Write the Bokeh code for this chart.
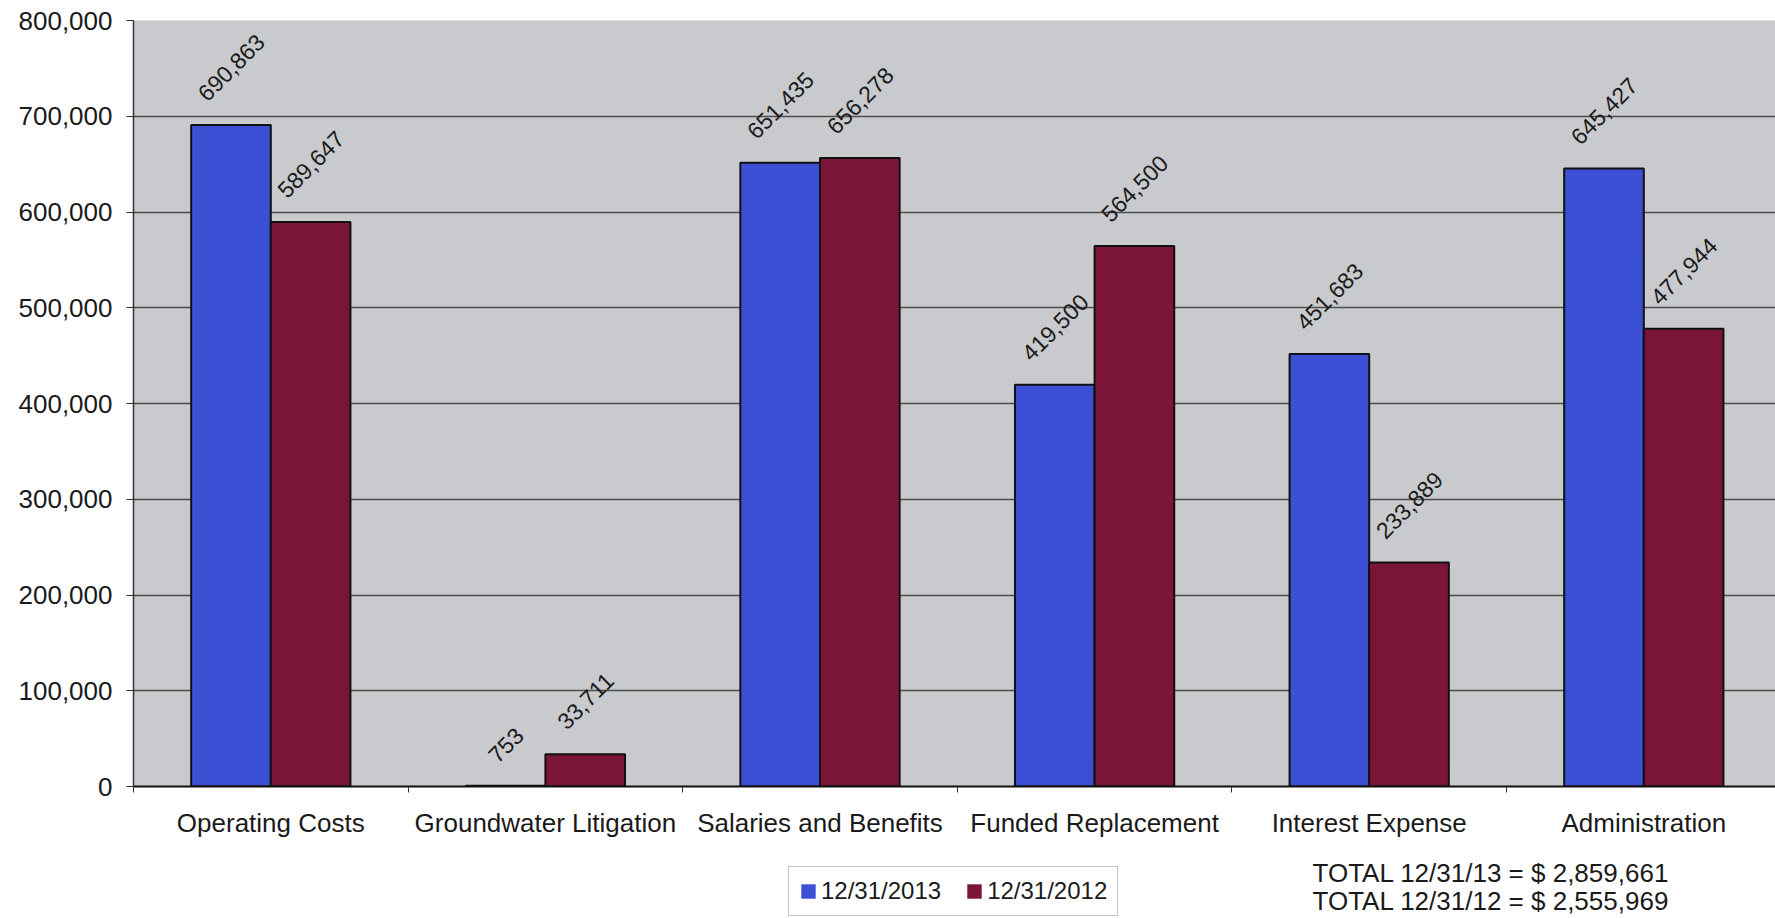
import math
from bokeh.plotting import figure
from bokeh.layouts import column
from bokeh.core.properties import value
from bokeh.models import (Range1d, FixedTicker, NumeralTickFormatter, Legend,
                          LegendItem, Label, ColumnDataSource)
from bokeh.embed import file_html
from bokeh.resources import INLINE

# ---- data -------------------------------------------------------------
categories = ["Operating Costs", "Groundwater Litigation", "Salaries and Benefits",
              "Funded Replacement", "Interest Expense", "Administration"]
values_2013 = [690863, 753, 651435, 419500, 451683, 645427]
values_2012 = [589647, 33711, 656278, 564500, 233889, 477944]
series_names = ["12/31/2013", "12/31/2012"]
total_lines = ["TOTAL 12/31/13 = $ 2,859,661", "TOTAL 12/31/12 = $ 2,555,969"]
y_ticks = [0, 100000, 200000, 300000, 400000, 500000, 600000, 700000, 800000]

# ---- style ------------------------------------------------------------
BLUE = "#3c50d6"
MAROON = "#7a1538"
PLOT_BG = "#c8cacd"
FONT = "Liberation Sans"
TEXT = "#1a1a1a"
BAR_W = 0.29

W = 1775
H_MAIN, H_FOOT = 855, 63
LEFT, TOP, BOTTOM = 133, 20, 69

n = len(categories)
centers = [i + 0.5 for i in range(n)]
x_end = (W - LEFT) / 274.6  # each category slot spans ~275 px

p = figure(width=W, height=H_MAIN, output_backend="svg", toolbar_location=None,
           x_range=Range1d(0, x_end), y_range=Range1d(0, 800000),
           min_border_left=LEFT, min_border_top=TOP, min_border_bottom=BOTTOM,
           min_border_right=0)
p.background_fill_color = PLOT_BG
p.border_fill_color = "white"
p.outline_line_color = None

# ---- bars ---------------------------------------------------------------
src13 = ColumnDataSource(dict(x=[c - BAR_W / 2 for c in centers], top=values_2013,
                              lab=[f"{v:,}" for v in values_2013]))
src12 = ColumnDataSource(dict(x=[c + BAR_W / 2 for c in centers], top=values_2012,
                              lab=[f"{v:,}" for v in values_2012]))
p.vbar(x="x", top="top", width=BAR_W, source=src13, fill_color=BLUE,
       line_color="#111111", line_width=2)
p.vbar(x="x", top="top", width=BAR_W, source=src12, fill_color=MAROON,
       line_color="#111111", line_width=2)

# rotated value labels: box centred over each bar, sitting a little above it
for src in (src13, src12):
    src.data["yoff"] = [-(23 + (8.5 * len(s) + 10) / 2) for s in src.data["lab"]]
    p.text(x="x", y="top", text="lab", source=src, angle=math.pi / 4,
           y_offset="yoff", text_align="center", text_baseline="middle",
           text_font=value(FONT), text_font_size="23px", text_color=TEXT)

# ---- axes ---------------------------------------------------------------
xa = p.xaxis[0]
xa.ticker = FixedTicker(ticks=centers, minor_ticks=list(range(n + 1)))
xa.major_label_overrides = {c: cat for c, cat in zip(centers, categories)}
xa.major_tick_out = 0
xa.major_tick_in = 0
xa.minor_tick_out = 6
xa.minor_tick_in = 0
xa.minor_tick_line_color = "#333333"
xa.axis_line_color = "#111111"
xa.axis_line_width = 2
xa.major_label_text_font = FONT
xa.major_label_text_font_size = "26px"
xa.major_label_text_color = TEXT
xa.major_label_standoff = 15

ya = p.yaxis[0]
ya.ticker = FixedTicker(ticks=y_ticks)
ya.formatter = NumeralTickFormatter(format="0,0")
ya.major_tick_out = 7
ya.major_tick_in = 0
ya.minor_tick_out = 0
ya.minor_tick_in = 0
ya.major_tick_line_color = "#333333"
ya.axis_line_color = "#333333"
ya.axis_line_width = 1.5
ya.major_label_text_font = FONT
ya.major_label_text_font_size = "26px"
ya.major_label_text_color = TEXT
ya.major_label_standoff = 14

p.xgrid.grid_line_color = None
p.ygrid.grid_line_color = "#4d4d4d"
p.ygrid.grid_line_width = 1.3

# ---- footer strip: legend and totals -----------------------------------
# (its frame is aligned with the chart frame, so x offsets start at LEFT)
f = figure(width=W, height=H_FOOT, output_backend="svg", toolbar_location=None,
           x_range=Range1d(0, 1), y_range=Range1d(0, 1),
           x_axis_location=None, y_axis_location=None,
           min_border_left=LEFT, min_border_right=0, min_border_top=0,
           min_border_bottom=0)
f.background_fill_color = "white"
f.border_fill_color = "white"
f.outline_line_color = None
f.xgrid.visible = False
f.ygrid.visible = False

# zero-height swatch renderers, used only for the legend glyphs
l13 = f.vbar(x=[0], top=[0], width=0.001, fill_color=BLUE, line_color=None)
l12 = f.vbar(x=[0], top=[0], width=0.001, fill_color=MAROON, line_color=None)
legend = Legend(items=[LegendItem(label=series_names[0], renderers=[l13]),
                       LegendItem(label=series_names[1], renderers=[l12])],
                orientation="horizontal", location=(788 - LEFT, 2),
                label_text_font=FONT, label_text_font_size="24px",
                label_text_color=TEXT, label_height=18,
                glyph_width=18, glyph_height=18, label_standoff=4,
                spacing=24, padding=10, margin=0,
                border_line_color="#8c8c8c", border_line_width=1.5,
                background_fill_color="white", background_fill_alpha=1)
f.add_layout(legend, "center")

for i, line in enumerate(total_lines):
    f.add_layout(Label(x=1312 - LEFT, y=46 - 28 * i, x_units="screen", y_units="screen",
                       text=line, text_font=FONT, text_font_size="26px",
                       text_color=TEXT, text_baseline="alphabetic"))

layout = column(p, f, spacing=0)
open("out.html", "w").write(file_html(layout, INLINE))
